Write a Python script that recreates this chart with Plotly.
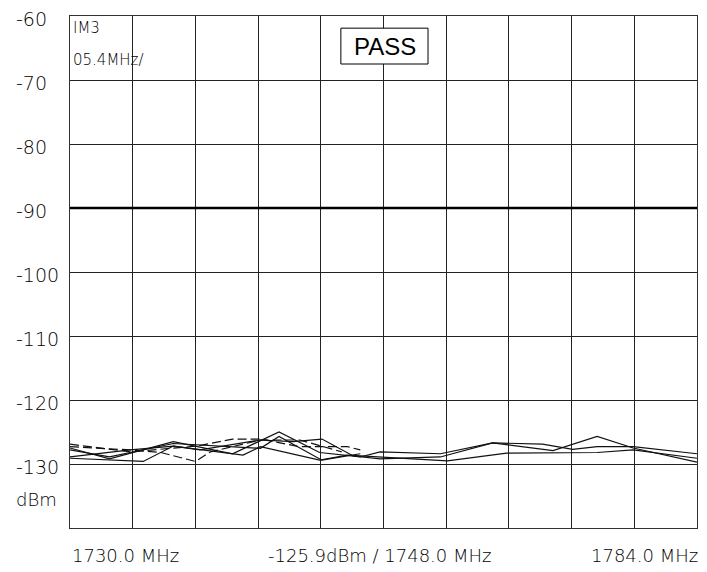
import plotly.graph_objects as go

# ---- data ----
x_a = [1730, 1733.4, 1738.9, 1744.0, 1748.0, 1751.5, 1755.0, 1756.7, 1761.9, 1766.4, 1771.6, 1775.4, 1778.5, 1784]
y_a = [-127.5, -129.2, -126.5, -128.4, -125.0, -128.2, -128.9, -128.1, -128.4, -126.7, -127.9, -125.7, -127.5, -129.7]

x_b = [1730, 1735.2, 1738.9, 1741.2, 1746.4, 1749.2, 1751.7, 1754.4, 1756.7, 1761.9, 1766.4, 1770.7, 1773.3, 1775.4, 1778.5, 1784]
y_b = [-128.9, -127.8, -127.2, -127.8, -126.25, -126.5, -126.1, -128.75, -129.2, -128.9, -126.7, -126.9, -127.7, -127.3, -127.3, -128.4]

x_c = [1730, 1736.3, 1738.9, 1744.9, 1746.4, 1751.5, 1753.9, 1756.7, 1762.5, 1767.6, 1775.4, 1778.5, 1784]
y_c = [-129.1, -129.6, -127.2, -128.6, -127.3, -129.4, -128.6, -128.9, -129.5, -128.3, -128.2, -127.8, -129.1]

x_d = [1730, 1733.4, 1738.9, 1746.4, 1748.0, 1751.7, 1755.0]
y_d = [-127.8, -128.9, -126.8, -127.55, -125.7, -129.4, -128.4]

x_e = [1730, 1735.2, 1740.9, 1744.0, 1746.4, 1749.8, 1753.9, 1755.0]
y_e = [-126.9, -128.1, -127.2, -126.1, -126.1, -127.3, -127.3, -127.8]

x_f = [1730, 1735.2, 1737.8, 1740.8, 1742.1, 1746.4, 1749.8, 1753.4]
y_f = [-127.3, -127.8, -128.2, -129.6, -128.1, -126.25, -126.25, -128.1]

limit_x = [1730, 1784]
limit_y = [-90, -90]

x_start, x_stop, x_div = 1730, 1784, 5.4
y_ticks = [-60, -70, -80, -90, -100, -110, -120, -130]
y_ticktext = ["-60", "-70", "-80", "-90", "-100", "-110", "-120", "-130"]

FONT = "DejaVu Sans"
TXT = "#000000"

fig = go.Figure()
solid = dict(color="#111111", width=1.2)
for xs, ys in [(x_a, y_a), (x_b, y_b), (x_c, y_c), (x_d, y_d)]:
    fig.add_trace(go.Scatter(x=xs, y=ys, mode="lines", line=solid, showlegend=False, hoverinfo="skip"))
for xs, ys in [(x_e, y_e), (x_f, y_f)]:
    fig.add_trace(go.Scatter(x=xs, y=ys, mode="lines",
                             line=dict(color="#111111", width=1.2, dash="9px,4px"),
                             showlegend=False, hoverinfo="skip"))
fig.add_trace(go.Scatter(x=limit_x, y=limit_y, mode="lines",
                         line=dict(color="#000000", width=2.6), showlegend=False, hoverinfo="skip"))

fig.update_xaxes(range=[x_start, x_stop], tick0=x_start, dtick=x_div, showticklabels=False,
                 showgrid=True, gridcolor="#222222", gridwidth=1, zeroline=False,
                 showline=True, linecolor="#333333", linewidth=1, mirror=True, ticks="")
fig.update_yaxes(range=[-140, -60], dtick=10, tick0=-60, showticklabels=False,
                 showgrid=True, gridcolor="#222222", gridwidth=1, zeroline=False,
                 showline=True, linecolor="#333333", linewidth=1, mirror=True, ticks="")

ann = []
for v, t in zip(y_ticks, y_ticktext):
    ann.append(dict(x=-0.0893, xref="paper", y=v, yref="y", text=t, showarrow=False,
                    xanchor="left", yanchor="middle", yshift=-3,
                    font=dict(family=FONT, size=19, color=TXT, weight=300)))
ann.append(dict(x=-0.0893, xref="paper", y=-135.6, yref="y", text="dBm", showarrow=False,
                xanchor="left", yanchor="middle",
                font=dict(family=FONT, size=18, color=TXT, weight=300)))
ann.append(dict(x=0.002, xref="paper", y=-61.9, yref="y", text="IM3", showarrow=False,
                xanchor="left", yanchor="middle", font=dict(family=FONT, size=15, color=TXT, weight=300)))
ann.append(dict(x=0.002, xref="paper", y=-66.9, yref="y", text="05.4MHz/", showarrow=False,
                xanchor="left", yanchor="middle", font=dict(family=FONT, size=15, color=TXT, weight=300)))
ann.append(dict(x=0.088, xref="paper", y=0, yref="paper", yshift=-27, text="1730.0 MHz", showarrow=False,
                xanchor="center", yanchor="middle", font=dict(family=FONT, size=18, color=TXT, weight=300)))
ann.append(dict(x=0.494, xref="paper", y=0, yref="paper", yshift=-27, text="-125.9dBm / 1748.0 MHz",
                showarrow=False, xanchor="center", yanchor="middle",
                font=dict(family=FONT, size=18, color=TXT, weight=300)))
ann.append(dict(x=1.005, xref="paper", y=0, yref="paper", yshift=-27, text="1784.0 MHz", showarrow=False,
                xanchor="right", yanchor="middle", font=dict(family=FONT, size=18, color=TXT, weight=300)))
ann.append(dict(x=0.5016, xref="paper", y=-64.7, yref="y", text="PASS", showarrow=False,
                xanchor="center", yanchor="middle",
                font=dict(family="Liberation Sans", size=24, color="#000000")))

shapes = [dict(type="rect", xref="paper", yref="y", x0=0.432, x1=0.571, y0=-67.5, y1=-61.9,
               line=dict(color="#000000", width=1), fillcolor="white", layer="above")]

fig.update_layout(width=707, height=572, margin=dict(l=70, r=10, t=16, b=44),
                  plot_bgcolor="white", paper_bgcolor="white", annotations=ann, shapes=shapes,
                  showlegend=False)

fig.write_html("out.html", config={"displayModeBar": False},
               post_script="document.body.style.margin='0';")
